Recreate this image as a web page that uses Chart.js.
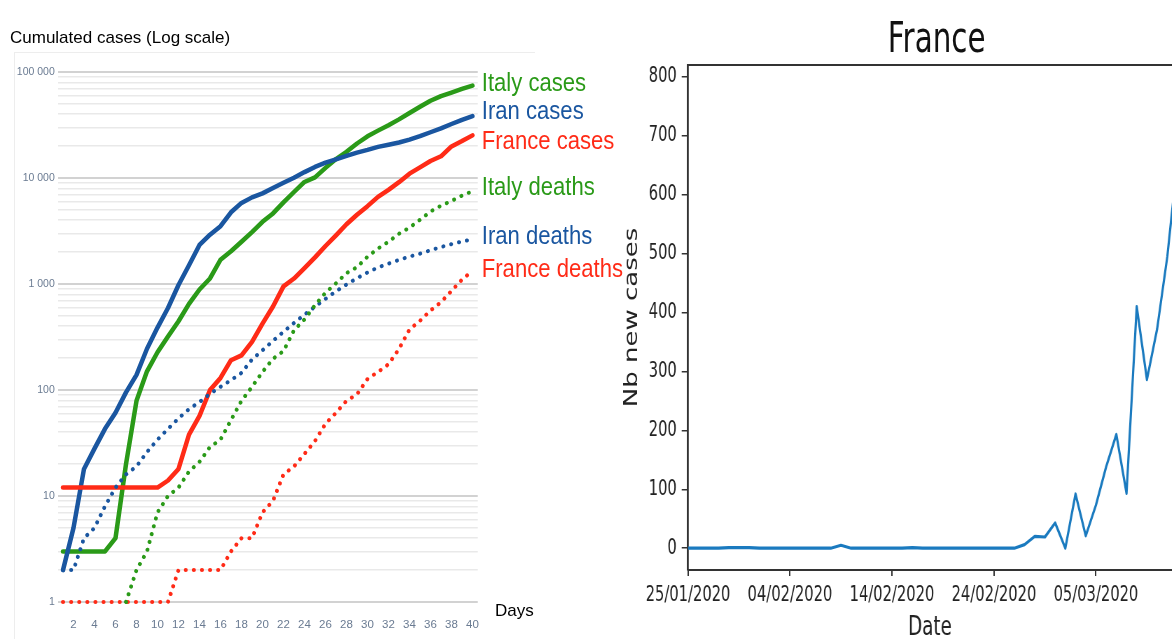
<!DOCTYPE html>
<html>
<head>
<meta charset="utf-8">
<script src="https://cdn.jsdelivr.net/npm/chart.js@4.4.1/dist/chart.umd.min.js"></script>
<style>
  html, body { margin: 0; padding: 0; background: #fff; overflow: hidden; }
  body { width: 1172px; height: 639px; position: relative; }
  #leftChart { position: absolute; left: 0; top: 0; }
  #rightPanel { position: absolute; left: 600px; top: 0; width: 817px; height: 639px;
    transform: scaleX(0.7); transform-origin: 0 0; }
  #rightChart { position: absolute; left: 0; top: 0; }
  .txt { position: absolute; white-space: nowrap; color: #000; line-height: 1; }
  #frame { position: absolute; left: 14px; top: 52px; width: 520px; height: 590px;
    border-left: 1px solid #ededed; border-top: 1px solid #ededed; }
</style>
</head>
<body>
<div id="frame"></div>
<canvas id="leftChart" width="640" height="639"></canvas>
<div class="txt" style="left:10px; top:28px; font:17px 'Liberation Sans', Arial, sans-serif;">Cumulated cases (Log scale)</div>
<div class="txt" style="left:495px; top:601px; font:17px 'Liberation Sans', Arial, sans-serif;">Days</div>
<div id="rightPanel">
  <canvas id="rightChart" width="817" height="639"></canvas>
  <div class="txt" style="left:281px; top:13px; width:400px; text-align:center; font:42px 'DejaVu Sans', sans-serif; color:#111;">France</div>
</div>

<script>
// left chart: cumulated cases, day 1..40
const days = [1,2,3,4,5,6,7,8,9,10,11,12,13,14,15,16,17,18,19,20,
  21,22,23,24,25,26,27,28,29,30,31,32,33,34,35,36,37,38,39,40];

const italyCases = [3,3,3,3,3,4,20,79,150,227,320,445,650,888,1128,1694,2036,2502,3089,3858,
  4636,5883,7375,9172,10149,12462,15113,17660,21157,24747,27980,31506,35713,41035,47021,53578,59138,63927,69176,74386];
const iranCases = [2,5,18,28,43,61,95,139,245,388,593,978,1501,2336,2922,3513,4747,5823,6566,7161,
  8042,9000,10075,11364,12729,13938,14991,16169,17361,18407,19644,20610,21638,23049,24811,27017,29406,32332,35408,38309];
const franceCases = [12,12,12,12,12,12,12,12,12,12,14,18,38,57,100,130,191,212,285,423,
  613,949,1126,1412,1784,2281,2876,3661,4499,5423,6633,7730,9134,10995,12612,14459,16018,19856,22304,25233];
const italyDeaths = [null,null,null,null,null,null,1,2,3,7,10,12,17,21,29,34,52,79,107,148,
  197,233,366,463,631,827,1016,1266,1441,1809,2158,2503,2978,3405,4032,4825,5476,6077,6820,7503];
const iranDeaths = [2,2,4,5,8,12,16,19,26,34,43,54,66,77,92,107,124,145,194,237,
  291,354,429,514,611,724,853,988,1135,1284,1433,1556,1685,1812,1934,2077,2234,2378,2517,2640];
const franceDeaths = [1,1,1,1,1,1,1,1,1,1,1,2,2,2,2,2,3,4,4,7,
  9,16,19,25,33,48,61,79,91,127,148,175,244,372,450,562,674,860,1100,1331];

// right chart: France new cases per day from 25/01/2020
const newCases = [0,0,0,0,1,1,1,0,0,0, 0,0,0,0,0,5,0,0,0,0,
  0,0,1,0,0,0,0,0,0,0, 0,0,0,6,20,19,43,0,92,21,
  73,138,193,93,410,286,372,495,660,780];
const dateTicks = ['25/01/2020','04/02/2020','14/02/2020','24/02/2020','05/03/2020'];

const GREEN = '#2a9a18';
const BLUE = '#1a56a0';
const RED = '#ff2b17';
const SANS = "'Liberation Sans', Arial, sans-serif";
const DEJAVU = "'DejaVu Sans', sans-serif";

function isDecade(v) {
  const l = Math.log10(v);
  return Math.abs(l - Math.round(l)) < 1e-9;
}
function spaced(v) {
  return String(v).replace(/\B(?=(\d{3})+(?!\d))/g, ' ');
}

function solid(label, data, color, dy) {
  return { label: label, data: data, borderColor: color, borderWidth: 4.5,
    pointRadius: 0, tension: 0, borderJoinStyle: 'round', borderCapStyle: 'round',
    clip: 8, labelDy: dy };
}
function dotted(label, data, color, dy) {
  return { label: label, data: data, borderColor: color, borderWidth: 4,
    borderDash: [0.1, 8], borderCapStyle: 'round', pointRadius: 0, tension: 0,
    clip: 8, labelDy: dy };
}

// names written at the end of each line (narrowed like the original Calibri)
const seriesLabels = {
  id: 'seriesLabels',
  afterDatasetsDraw(chart) {
    const ctx = chart.ctx;
    const y = chart.scales.y;
    const x0 = chart.chartArea.right + 4;
    chart.data.datasets.forEach(ds => {
      const last = ds.data[ds.data.length - 1];
      ctx.save();
      ctx.translate(x0, y.getPixelForValue(last) + ds.labelDy);
      ctx.scale(0.85, 1);
      ctx.font = '26px ' + SANS;
      ctx.textBaseline = 'middle';
      ctx.textAlign = 'left';
      ctx.fillStyle = ds.borderColor;
      ctx.fillText(ds.label, 0, 0);
      ctx.restore();
    });
  }
};

new Chart(document.getElementById('leftChart'), {
  type: 'line',
  data: {
    labels: days,
    datasets: [
      dotted('Italy deaths', italyDeaths, GREEN, -3),
      dotted('Iran deaths', iranDeaths, BLUE, -2),
      dotted('France deaths', franceDeaths, RED, -1),
      solid('France cases', franceCases, RED, 6),
      solid('Iran cases', iranCases, BLUE, -4),
      solid('Italy cases', italyCases, GREEN, -2)
    ]
  },
  options: {
    responsive: false,
    animation: false,
    layout: { padding: { left: 0, right: 162.25, top: 72, bottom: 0 } },
    plugins: { legend: { display: false }, tooltip: { enabled: false } },
    scales: {
      x: {
        type: 'category',
        offset: true,
        grid: { display: false, drawTicks: false },
        border: { display: false },
        ticks: {
          autoSkip: false, maxRotation: 0, padding: 16,
          color: '#6a7b92', font: { family: SANS, size: 11.5 },
          callback: (v, i) => (days[i] % 2 === 0 ? String(days[i]) : '')
        },
        afterFit: s => { s.height = 37; }
      },
      y: {
        type: 'logarithmic',
        min: 1,
        max: 100000,
        border: { display: false },
        grid: {
          drawTicks: false,
          color: c => (isDecade(c.tick.value) ? '#d2d2d2' : '#e9e9e9'),
          lineWidth: c => (isDecade(c.tick.value) ? 2 : 1.5)
        },
        ticks: {
          autoSkip: false, padding: 3,
          color: '#6a7b92', font: { family: SANS, size: 10.5 },
          callback: v => (isDecade(v) ? spaced(v) : '')
        },
        afterBuildTicks: s => {
          const t = [];
          for (let d = 1; d < 100000; d *= 10) {
            for (let k = 1; k < 10; k++) t.push({ value: k * d });
          }
          t.push({ value: 100000 });
          s.ticks = t;
        },
        afterFit: s => { s.width = 57.75; }
      }
    }
  },
  plugins: [seriesLabels]
});

// top edge of the matplotlib frame
const topBorder = {
  id: 'topBorder',
  afterDraw(chart) {
    const a = chart.chartArea;
    const ctx = chart.ctx;
    ctx.save();
    ctx.strokeStyle = '#333';
    ctx.lineWidth = 2;
    ctx.beginPath();
    ctx.moveTo(a.left - 1, a.top);
    ctx.lineTo(a.right, a.top);
    ctx.stroke();
    ctx.restore();
  }
};

// drawn 1/0.7 wider, then squeezed by the panel's CSS transform
new Chart(document.getElementById('rightChart'), {
  type: 'line',
  data: {
    datasets: [{
      data: newCases.map((v, i) => ({ x: i, y: v })),
      borderColor: '#1a7abf',
      borderWidth: 3.2,
      pointRadius: 0,
      tension: 0,
      borderJoinStyle: 'round'
    }]
  },
  options: {
    responsive: false,
    animation: false,
    layout: { padding: { left: 0, right: 0, top: 65, bottom: 0 } },
    plugins: { legend: { display: false }, tooltip: { enabled: false } },
    scales: {
      x: {
        type: 'linear',
        min: 0,
        max: 47.45,
        grid: { drawOnChartArea: false, tickLength: 6, color: '#333', lineWidth: 2 },
        border: { color: '#333', width: 2 },
        ticks: {
          stepSize: 10, includeBounds: false, autoSkip: false, maxRotation: 0, padding: 7,
          color: '#222', font: { family: DEJAVU, size: 21 },
          callback: v => dateTicks[v / 10]
        },
        title: {
          display: true, text: 'Date', color: '#222',
          font: { family: DEJAVU, size: 26, lineHeight: 1 },
          padding: { top: 0, bottom: -2 }
        },
        afterFit: s => { s.height = 69; }
      },
      y: {
        type: 'linear',
        min: -37,
        max: 820,
        grid: { drawOnChartArea: false, tickLength: 9, color: '#333', lineWidth: 1.5 },
        border: { color: '#333', width: 2.8 },
        ticks: {
          stepSize: 100, includeBounds: false, padding: 7,
          color: '#222', font: { family: DEJAVU, size: 21 }
        },
        title: {
          display: true, text: 'Nb new cases', color: '#222',
          font: { family: DEJAVU, size: 26 },
          padding: { top: 31, bottom: 0 }
        },
        afterFit: s => { s.width = 125.7; }
      }
    }
  },
  plugins: [topBorder]
});
</script>
</body>
</html>
